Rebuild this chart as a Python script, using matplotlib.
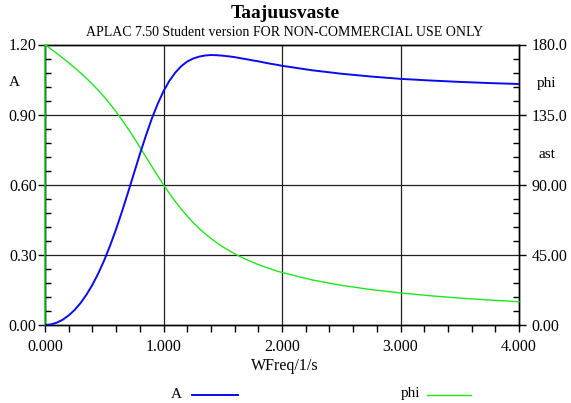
import matplotlib
matplotlib.use("Agg")
import matplotlib.pyplot as plt
from matplotlib.lines import Line2D
from matplotlib.ticker import MultipleLocator

plt.rcParams["font.family"] = ["Liberation Serif", "DejaVu Serif"]

# frequency response
wfreq = [0.0, 0.05, 0.1, 0.15, 0.2, 0.25, 0.3, 0.35, 0.4, 0.45, 0.5,
         0.55, 0.6, 0.65, 0.7, 0.75, 0.8, 0.85, 0.9, 0.95, 1.0,
         1.05, 1.1, 1.15, 1.2, 1.25, 1.3, 1.35, 1.4, 1.45, 1.5,
         1.55, 1.6, 1.65, 1.7, 1.75, 1.8, 1.85, 1.9, 1.95, 2.0,
         2.25, 2.5, 2.75, 3.0, 3.25, 3.5, 3.75, 4.0]
amp = [0.0, 0.0025, 0.010, 0.0228, 0.041, 0.0644, 0.094, 0.1297, 0.172, 0.2211, 0.277,
       0.3406, 0.410, 0.4859, 0.566, 0.6478, 0.730, 0.8080, 0.881, 0.9450, 1.000,
       1.0450, 1.080, 1.1073, 1.127, 1.1399, 1.148, 1.1529, 1.155, 1.1542, 1.152,
       1.1493, 1.146, 1.1414, 1.137, 1.1322, 1.128, 1.1228, 1.118, 1.1137, 1.109,
       1.090, 1.075, 1.063, 1.053, 1.046, 1.040, 1.035, 1.031]
# phase starts with a jump from 0 to 180 at zero frequency
phi_freq = [0.0] + wfreq
phi = [0.0, 180.0, 177.13, 174.23, 171.28, 168.23, 165.07, 161.75, 158.25, 154.54, 150.57, 146.31,
       141.74, 136.85, 131.62, 126.08, 120.26, 114.23, 108.08, 101.92, 95.86, 90.0,
       84.42, 79.19, 74.33, 69.86, 65.77, 62.05, 58.64, 55.56, 52.75, 50.19,
       47.86, 45.73, 43.77, 41.97, 40.31, 38.78, 37.37, 36.06, 34.83, 33.69,
       28.98, 25.46, 22.74, 20.56, 18.77, 17.28, 16.02, 14.93]

x_ticks = [0, 1, 2, 3, 4]
x_labels = ["0.000", "1.000", "2.000", "3.000", "4.000"]
a_ticks = [0, 0.3, 0.6, 0.9, 1.2]
a_labels = ["0.00", "0.30", "0.60", "0.90", "1.20"]
p_ticks = [0, 45, 90, 135, 180]
p_labels = ["0.00", "45.00", "90.00", "135.0", "180.0"]

blue = "#0a0aee"
green = "#1ee61e"

fig = plt.figure(figsize=(5.71, 4.03), dpi=100)
ax = fig.add_axes([45 / 571, 78 / 403, 474 / 571, 280.5 / 403])
ax2 = ax.twinx()

ax.set_xlim(0, 4)
ax.set_ylim(0, 1.2)
ax2.set_ylim(0, 180)

for x in x_ticks[1:-1]:
    ax.axvline(x, color="#202020", lw=0.9, zorder=1)
for y in a_ticks[1:-1]:
    ax.axhline(y, color="#202020", lw=0.9, zorder=1)

# both curves drawn in the front axes so they sit over the frame
ax.set_zorder(ax2.get_zorder() + 1)
ax.patch.set_visible(False)
ax.plot(phi_freq, phi, color=green, lw=1.0, zorder=3, clip_on=False,
        transform=ax2.transData)
ax.plot(wfreq, amp, color=blue, lw=1.4, zorder=4)

for a in (ax, ax2):
    for s in a.spines.values():
        s.set_linewidth(1.0)
        s.set_color("black")

ax.set_xticks(x_ticks)
ax.set_xticklabels(x_labels, fontsize=11.5)
ax.xaxis.set_minor_locator(MultipleLocator(0.2))
ax.tick_params(axis="x", which="both", direction="out", length=5, width=1, pad=5)

ax.set_yticks(a_ticks)
ax.set_yticklabels(a_labels, fontsize=11.5)
ax.yaxis.set_minor_locator(MultipleLocator(0.06))
ax.tick_params(axis="y", which="major", direction="out", length=5, width=1, pad=1)
ax.tick_params(axis="y", which="minor", direction="in", length=4, width=1)

ax2.set_yticks(p_ticks)
ax2.set_yticklabels(p_labels, fontsize=11.5)
ax2.yaxis.set_minor_locator(MultipleLocator(9))
ax2.tick_params(axis="y", which="major", direction="out", length=5, width=1, pad=4)
ax2.tick_params(axis="y", which="minor", direction="in", length=4, width=1)

fig.text(285 / 571, 1 - 14 / 403, "Taajuusvaste", ha="center", va="center",
         fontsize=14, fontweight="bold")
fig.text(285 / 571, 1 - 32 / 403, "APLAC 7.50 Student version FOR NON-COMMERCIAL USE ONLY",
         ha="center", va="center", fontsize=10)
fig.text(285 / 571, 1 - 366 / 403, "WFreq/1/s", ha="center", va="center", fontsize=11.5)
fig.text(14 / 571, 1 - 83 / 403, "A", ha="center", va="center", fontsize=11)
fig.text(547 / 571, 1 - 84 / 403, "phi", ha="center", va="center", fontsize=11)
fig.text(547 / 571, 1 - 155 / 403, "ast", ha="center", va="center", fontsize=11)

# legend below the plot
fig.text(176 / 571, 1 - 394 / 403, "A", ha="center", va="center", fontsize=11)
fig.add_artist(Line2D([192 / 571, 238 / 571], [1 - 395 / 403] * 2, color=blue, lw=1.4,
                      transform=fig.transFigure))
fig.text(411 / 571, 1 - 394 / 403, "phi", ha="center", va="center", fontsize=11)
fig.add_artist(Line2D([427 / 571, 471 / 571], [1 - 395 / 403] * 2, color=green, lw=1.0,
                      transform=fig.transFigure))

fig.savefig("out.png", dpi=100)
